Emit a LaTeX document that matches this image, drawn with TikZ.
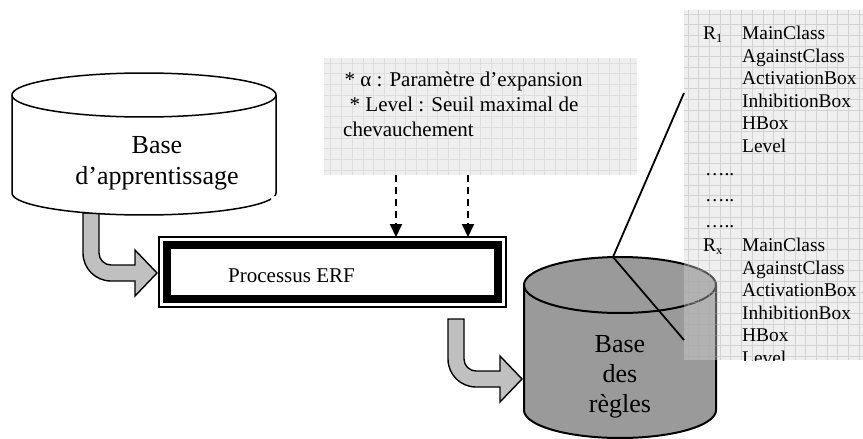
\documentclass[tikz,border=0pt]{standalone}
\usepackage{fontspec}
\setmainfont{Liberation Serif}
\usetikzlibrary{arrows.meta}

\definecolor{paper}{HTML}{EFEFEF}
\definecolor{paperline}{HTML}{DEDEDE}
\definecolor{veil}{HTML}{D6D6D6}
\definecolor{veilline}{HTML}{A8A8A8}
\definecolor{drum}{HTML}{9A9A9A}
\definecolor{flow}{HTML}{C0C0C0}

\tikzset{
  rim/.style={line width=1.5pt},
  heavyrim/.style={line width=2pt},
  bigtxt/.style={font=\fontsize{26}{31}\selectfont, align=center, inner sep=0pt, anchor=base},
  midtxt/.style={font=\fontsize{21}{25}\selectfont, align=left, inner sep=0pt, anchor=base west},
  rowtxt/.style={font=\fontsize{19.4}{22}\selectfont, inner sep=0pt, anchor=base west},
  gridpaper/.style={inner sep=0pt, outer sep=0pt, fill=paper,
    path picture={\draw[paperline, line width=0.6pt]
      (path picture bounding box.south west) grid[step=10.7pt]
      (path picture bounding box.north east);}},
  veilpaper/.style={inner sep=0pt, outer sep=0pt, fill=veil, fill opacity=0.4,
    path picture={\draw[veilline, line width=0.6pt, draw opacity=0.4]
      (path picture bounding box.south west) grid[step=10.7pt]
      (path picture bounding box.north east);}},
  dasharrow/.style={line width=2.2pt, dash pattern=on 7pt off 5pt,
    -{Triangle[length=13pt,width=12pt]}},
  link/.style={line width=1.8pt},
  bendarrow/.pic={
    \draw[line width=1.4pt, fill=flow, line join=miter]
      (0,0) -- (16,0) -- (16,40)
      .. controls (16,46.6) and (21.4,52) .. (28,52)
      -- (52,52) -- (52,37) -- (74,60) -- (52,83) -- (52,68) -- (28,68)
      .. controls (12.5,68) and (0,55.5) .. (0,40) -- cycle;
  },
}

\begin{document}
\begin{tikzpicture}[x=1pt, y=-1pt]
  \useasboundingbox (0,0) rectangle (863,439);

  % parameter note with its grid paper
  \node (par) [gridpaper, minimum width=313pt, minimum height=117pt] at (480.5,116.5) {};
  % multi-line nodes sit on the baseline of their last line
  \node (partxt) [midtxt] at (343,136.7)
    {\hspace*{1.5pt}* α : Paramètre d’expansion\\
     \hspace*{6.5pt}* Level : Seuil maximal de\\
     chevauchement};

  % ERF process box: thin outer frame and heavy inner frame
  \node (erfout) [draw, line width=1.4pt, outer sep=0pt, minimum width=347pt, minimum height=70pt] at (332.5,272) {};
  \node (erf) [draw, line width=8pt, outer sep=0pt, minimum width=331pt, minimum height=54pt] at (332.5,272) {};
  \node (erftxt) [midtxt] at (228,282.3) {Processus ERF};

  % parameters feeding the process
  \draw[dasharrow] (396,0 |- par.south) -- (396,0 |- erfout.north);
  \draw[dasharrow] (468,0 |- par.south) -- (468,0 |- erfout.north);

  % training base flowing into the process
  \pic at (83,213) {bendarrow};
  \begin{scope}
    \clip (0,0) -- (300,0) -- (300,196) -- (271,196) -- (271,230) -- (0,230) -- cycle;
    \filldraw[rim, fill=white] (12,95) -- (12,193)
      -- plot[domain=180:0, samples=60] ({144+132*cos(\x)},{193+22*sin(\x)})
      -- (276,95)
      -- plot[domain=360:180, samples=60] ({144+132*cos(\x)},{95+22*sin(\x)}) -- cycle;
    \draw[rim] plot[domain=0:180, samples=60] ({144+132*cos(\x)},{95+22*sin(\x)});
  \end{scope}
  \node (learn) [bigtxt] at (157,184) {Base\\d’apprentissage};

  % process output flowing into the rule base
  \pic at (448,319) {bendarrow};
  \filldraw[heavyrim, fill=drum] (524,285) -- (524,410)
    -- plot[domain=180:0, samples=60] ({620+96*cos(\x)},{410+28*sin(\x)})
    -- (716,285)
    -- plot[domain=360:180, samples=60] ({620+96*cos(\x)},{285+28*sin(\x)}) -- cycle;
  \draw[heavyrim] plot[domain=0:180, samples=60] ({620+96*cos(\x)},{285+28*sin(\x)});
  \node (rules) [bigtxt, font=\fontsize{26}{29.6}\selectfont] at (620,412) {Base\\des\\règles};
  \coordinate (rtop) at (613,257);

  % zoomed view of the rule base content
  \node (detail) [veilpaper, minimum width=179pt, minimum height=350pt] at (773.5,185) {};
  \draw[link] (rtop) -- ([yshift=-83pt]detail.north west);
  \draw[link] (rtop) -- ([yshift=20pt]detail.south west);

  \begin{scope}
    \clip (detail.north west) rectangle (detail.south east);
    \node (r1) [rowtxt] at (703,39.5) {R\raisebox{-3pt}{\fontsize{12.5}{12.5}\selectfont 1}};
    \node (rx) [rowtxt] at (703,251.5) {R\raisebox{-3pt}{\fontsize{12.5}{12.5}\selectfont x}};
    \foreach \txt [count=\i] in {MainClass, AgainstClass, ActivationBox, InhibitionBox, HBox, Level} {
      \node (ra\i) [rowtxt] at (742,{39.5+22.5*(\i-1)}) {\txt};
      \node (rb\i) [rowtxt] at (742,{251.5+22.5*(\i-1)}) {\txt};
    }
    \node (dots1) [rowtxt] at (705,175) {…..};
    \node (dots2) [rowtxt] at (705,201) {…..};
    \node (dots3) [rowtxt] at (705,227) {…..};
  \end{scope}
\end{tikzpicture}
\end{document}
